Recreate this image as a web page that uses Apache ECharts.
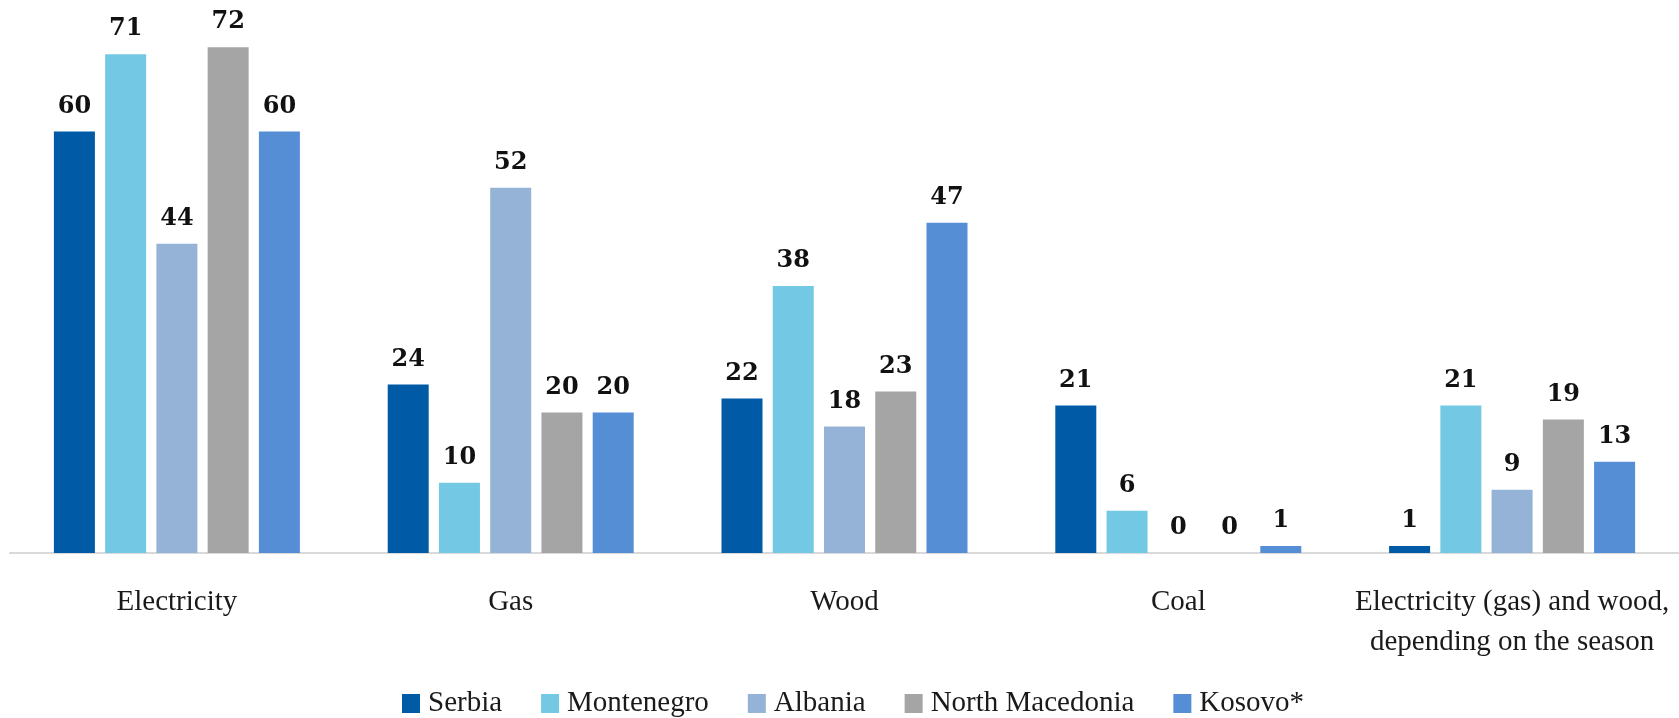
<!DOCTYPE html>
<html>
<head>
<meta charset="utf-8">
<script src="https://cdn.jsdelivr.net/npm/echarts@6/dist/echarts.min.js"></script>
<style>html,body{margin:0;padding:0;background:#fff}#c{width:1679px;height:718px}</style>
</head>
<body>
<div id="c"></div>
<script>
const categories = ['Electricity', 'Gas', 'Wood', 'Coal', 'Electricity (gas) and wood,\ndepending on the season'];
const seriesNames = ['Serbia', 'Montenegro', 'Albania', 'North Macedonia', 'Kosovo*'];
const serbia = [60, 24, 22, 21, 1];
const montenegro = [71, 10, 38, 6, 21];
const albania = [44, 52, 18, 0, 9];
const northMacedonia = [72, 20, 23, 0, 19];
const kosovo = [60, 20, 47, 1, 13];
const colors = ['#005AA6', '#73C8E4', '#95B3D7', '#A5A5A5', '#558ED5'];

const allData = [serbia, montenegro, albania, northMacedonia, kosovo];
const chart = echarts.init(document.getElementById('c'));
chart.setOption({
  animation: false,
  backgroundColor: '#fff',
  grid: { left: 10, right: 0, top: 5, bottom: 165, containLabel: false },
  legend: {
    left: 397, top: 684,
    itemWidth: 18, itemHeight: 19, itemGap: 39,
    icon: 'rect',
    textStyle: { fontFamily: 'Liberation Serif', fontSize: 29, lineHeight: 29, color: '#1a1a1a', padding: [0, 0, 0, 3] },
    data: seriesNames
  },
  xAxis: {
    type: 'category',
    data: categories,
    axisLine: { show: true, lineStyle: { color: '#d9d9d9', width: 2 } },
    axisTick: { show: false },
    axisLabel: { interval: 0, margin: 29, fontFamily: 'Liberation Serif', fontSize: 29, lineHeight: 40, color: '#1a1a1a' }
  },
  yAxis: {
    type: 'value', min: 0, max: 78,
    show: false,
    splitLine: { show: false }
  },
  series: seriesNames.map((n, i) => ({
    name: n,
    type: 'bar',
    data: allData[i],
    barWidth: 41,
    barGap: '25%',
    itemStyle: { color: colors[i] },
    label: {
      show: true, position: 'top', distance: 13,
      fontFamily: 'DejaVu Serif', fontWeight: 'bold', fontSize: 24, color: '#111'
    }
  }))
});
</script>
</body>
</html>
